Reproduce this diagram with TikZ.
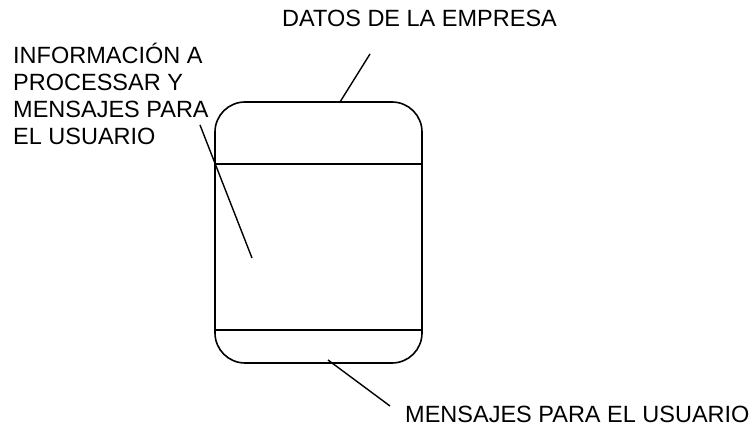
\documentclass[tikz,border=0pt]{standalone}
\usepackage{fontspec}
\setmainfont{Liberation Sans}
\usetikzlibrary{positioning}

\begin{document}
\begin{tikzpicture}[x=1pt,y=-1pt,
      every node/.style={font=\fontsize{23.5}{27}\selectfont},
      etiqueta/.style={inner sep=0pt},
      almacen/.style={draw,line width=1.6pt,rounded corners=30pt,
                      minimum width=207pt,minimum height=261pt},
      linea/.style={line width=1.4pt}]
    \useasboundingbox (0,0) rectangle (755,427);
    \node[almacen] (caja) at (318.5,232.5) {};
    \draw[line width=1.6pt] ([yshift=-63pt]caja.north west) coordinate (sup)
      -- ([yshift=-63pt]caja.north east);
    \draw[line width=1.6pt] ([yshift=34pt]caja.south west)
      -- ([yshift=34pt]caja.south east);
    \node[etiqueta,anchor=base west] (datos) at (282,27) {DATOS DE LA EMPRESA};
    \node[etiqueta,anchor=north west,align=left] (info) at (13,43)
      {INFORMACIÓN A\\PROCESSAR Y\\MENSAJES PARA\\EL USUARIO};
    \node[etiqueta,anchor=base west] (mensajes) at (405,423) {MENSAJES PARA EL USUARIO};
    \coordinate (c1) at (340,102);
    \coordinate (c1b) at (370,54);
    \coordinate (c2) at (200,125);
    \coordinate (c2b) at (252,258);
    \coordinate (c3) at (328,360);
    \coordinate (c3b) at (390,406);
    \draw[linea] (c1) -- (c1b);
    \draw[linea] (c2) -- (c2b);
    \draw[linea] (c3) -- (c3b);
  \end{tikzpicture}
\end{document}
